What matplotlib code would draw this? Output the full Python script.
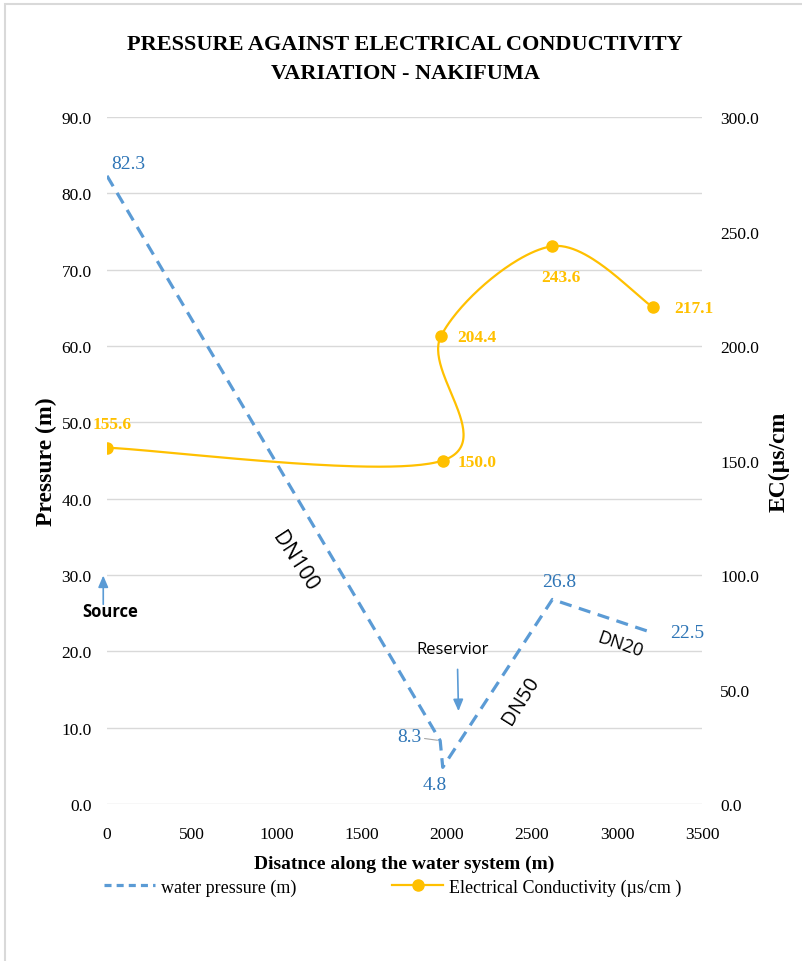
import numpy as np
import matplotlib
matplotlib.use("Agg")
import matplotlib.pyplot as plt
from matplotlib.lines import Line2D
from matplotlib.patches import Rectangle

# distance along the system (m) and readings
press_dist = [0, 1960, 1975, 2620, 3200]
pressure = [82.3, 8.3, 4.8, 26.8, 22.5]
ec_dist = [0, 1975, 1965, 2620, 3210]
ec_values = [155.6, 150.0, 204.4, 243.6, 217.1]

# label offsets (points) for each data label
press_offsets = [(15, 9), (-22, 3), (-6, -12), (5, 13), (26, 0)]
ec_offsets = [(4, 17), (25, -1), (26, -1), (6, -22), (30, -1)]

x_ticks = [0, 500, 1000, 1500, 2000, 2500, 3000, 3500]
p_ticks = [0, 10, 20, 30, 40, 50, 60, 70, 80, 90]
ec_ticks = [0, 50, 100, 150, 200, 250, 300]

BLUE = "#5B9BD5"
BLUE_TXT = "#2E75B6"
GOLD = "#FFC000"
SERIF = "Liberation Serif"
SANS = "Open Sans"


def smooth_curve(ax, xs, ys, n=60):
    # Bezier smoothing in screen space, like a spreadsheet "smoothed line"
    pts = ax.transData.transform(np.column_stack([xs, ys]))
    out = [pts[0]]
    m = len(pts)
    t = np.linspace(0, 1, n)[1:, None]
    for i in range(m - 1):
        p0 = pts[max(i - 1, 0)]
        p1 = pts[i]
        p2 = pts[i + 1]
        p3 = pts[min(i + 2, m - 1)]
        c1 = p1 + (p2 - p0) / 6
        c2 = p2 - (p3 - p1) / 6
        seg = ((1 - t) ** 3) * p1 + 3 * ((1 - t) ** 2) * t * c1 \
            + 3 * (1 - t) * t ** 2 * c2 + t ** 3 * p2
        out.extend(seg)
    return ax.transData.inverted().transform(np.array(out))


fig = plt.figure(figsize=(8.02, 9.62), dpi=100)
ax = fig.add_axes([0.1334, 0.1632, 0.7419, 0.7141])
ax2 = ax.twinx()
ax2.set_position(ax.get_position())

ax.set_xlim(0, 3500)
ax.set_ylim(0, 90)
ax2.set_ylim(0, 300)

for a in (ax, ax2):
    for s in a.spines.values():
        s.set_visible(False)
    a.tick_params(length=0, labelsize=12.5)

ax.set_xticks(x_ticks)
ax.set_xticklabels([str(v) for v in x_ticks], fontfamily=SERIF)
ax.set_yticks(p_ticks)
ax.set_yticklabels([f"{v:.1f}" for v in p_ticks], fontfamily=SERIF)
ax2.set_yticks(ec_ticks)
ax2.set_yticklabels([f"{v:.1f}" for v in ec_ticks], fontfamily=SERIF)
ax.tick_params(axis="x", pad=16)
ax.tick_params(axis="y", pad=11)
ax2.tick_params(axis="y", pad=13)

ax.yaxis.grid(True, color="#D9D9D9", lw=1)
ax.set_axisbelow(True)

# pressure line
ax.plot(press_dist, pressure, color=BLUE, lw=2.3, dashes=(3.8, 2.4),
        solid_capstyle="butt", dash_capstyle="butt", zorder=3)

# conductivity smoothed line with markers
curve = smooth_curve(ax2, ec_dist, ec_values)
ax2.plot(curve[:, 0], curve[:, 1], color=GOLD, lw=1.6, zorder=3)
ax2.plot(ec_dist, ec_values, "o", color=GOLD, ms=8, zorder=4)

for xv, yv, off in zip(press_dist, pressure, press_offsets):
    kw = {}
    if yv == 8.3:
        kw["arrowprops"] = dict(arrowstyle="-", color="#A6A6A6", lw=0.8,
                                shrinkA=0, shrinkB=2)
    ax.annotate(f"{yv:.1f}", (xv, yv), xytext=off, textcoords="offset points",
                ha="center", va="center", color=BLUE_TXT, fontsize=14,
                fontfamily=SERIF, annotation_clip=False, **kw)

for xv, yv, off in zip(ec_dist, ec_values, ec_offsets):
    ax2.annotate(f"{yv:.1f}", (xv, yv), xytext=off, textcoords="offset points",
                 ha="center", va="center", color=GOLD, fontsize=12.5,
                 fontweight="bold", fontfamily=SERIF, annotation_clip=False)

# pipe sizes and features
ax.text(1106, 31.8, "DN100", rotation=-57, ha="center", va="center",
        fontsize=15, fontfamily=SANS)
ax.text(2432, 13.6, "DN50", rotation=58, ha="center", va="center",
        fontsize=14.5, fontfamily=SANS)
ax.text(3018, 21.0, "DN20", rotation=-19, ha="center", va="center",
        fontsize=13, fontfamily=SANS)

ax.annotate("", xy=(-22, 30.3), xytext=(-22, 25.8),
            arrowprops=dict(arrowstyle="-|>,head_length=0.7,head_width=0.3",
                            color=BLUE, lw=1.2), annotation_clip=False)
ax.text(18, 25.3, "Source", ha="center", va="center", fontsize=12,
        fontweight="bold", fontfamily=SANS)

ax.annotate("", xy=(2068, 11.8), xytext=(2062, 18.0),
            arrowprops=dict(arrowstyle="-|>,head_length=0.7,head_width=0.3",
                            color=BLUE, lw=1.2), annotation_clip=False)
ax.text(2035, 20.3, "Reservior", ha="center", va="center", fontsize=12,
        fontfamily=SANS)

ax.set_xlabel("Disatnce along the water system (m)", fontsize=14,
              fontweight="bold", fontfamily=SERIF, labelpad=9)
ax.set_ylabel("Pressure (m)", fontsize=17, fontweight="bold",
              fontfamily=SERIF, labelpad=3)
ax2.set_ylabel("EC(\u00b5s/cm", fontsize=17, fontweight="bold",
               fontfamily=SERIF, labelpad=7)

fig.text(0.505, 0.938, "PRESSURE AGAINST ELECTRICAL CONDUCTIVITY\nVARIATION - NAKIFUMA",
         ha="center", va="center", fontsize=16, fontweight="bold",
         fontfamily=SERIF, linespacing=1.6)

handles = [
    Line2D([], [], color=BLUE, lw=2.3, dashes=(2.2, 1.6)),
    Line2D([], [], color=GOLD, lw=1.6, marker="o", ms=8),
]
fig.legend(handles, ["water pressure (m)", "Electrical Conductivity (\u00b5s/cm )"],
           loc="center", bbox_to_anchor=(0.49, 0.077), ncol=2, frameon=False,
           prop={"family": SERIF, "size": 13}, columnspacing=5.3,
           handlelength=2.8, handletextpad=0.35)

# outer chart frame
fig.add_artist(Rectangle((5 / 802, -0.1), 2, 1.1 - 5 / 962, transform=fig.transFigure,
                         fill=False, edgecolor="#D9D9D9", lw=1.5, clip_on=False))

fig.savefig("out.png", dpi=100)
